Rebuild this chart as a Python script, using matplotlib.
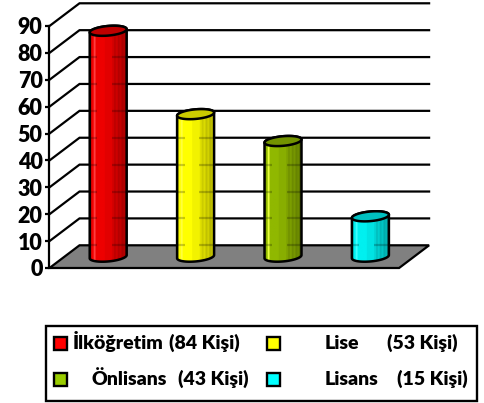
import numpy as np
import matplotlib
matplotlib.use('Agg')
import matplotlib.pyplot as plt
from matplotlib.patches import Polygon, Rectangle

plt.rcParams['font.family'] = ['Lato', 'DejaVu Sans']

labels = ['İlköğretim', 'Lise', 'Önlisans', 'Lisans']
counts = [84, 53, 43, 15]
colors = ['#ee0000', '#ffff00', '#90b800', '#00f0f0']
key_colors = ['#ff0000', '#ffff00', '#99cc00', '#00ffff']
yticks = [0, 10, 20, 30, 40, 50, 60, 70, 80, 90]

W, H = 485, 403
# pixels per unit on the front plane
px_x = 87.4
px_y = 2.689
depth_x = 30 / px_x
depth_y = 22.7 / px_y
rx = 18.5 / px_x
ry = 4.8 / px_y
tilt = 1.6 / px_y


def ring(cx, cy, t):
    return cx + rx*np.cos(t), cy + ry*np.sin(t) + tilt*np.cos(t)


def shade(hex_color):
    # brightness across the cylinder, highlight on the left, bands on the right
    c = np.array(matplotlib.colors.to_rgb(hex_color))
    prof = np.ones(40)
    prof[:2] = 0.85
    prof[2:4] = 1.0
    prof[4:6] = 1.2
    prof[6:16] = 1.0
    prof[16:24] = 0.95
    prof[24:] = np.repeat([0.88, 0.8, 0.86, 0.76, 0.82, 0.72, 0.76, 0.62], 2)
    rgb = np.clip(prof[:, None] * c + np.maximum(prof[:, None] - 1, 0) * 1.2, 0, 1)
    return rgb[None, :, :]


fig = plt.figure(figsize=(W/100, H/100), dpi=100)
ax = fig.add_axes([49.5/W, (H-268)/H, 379.5/W, 265/H])
ax.set_xlim(0, 379.5/px_x)
ax.set_ylim(0, 265/px_y)
ax.patch.set_visible(False)
for s in ['top', 'right', 'bottom']:
    ax.spines[s].set_visible(False)
ax.spines['left'].set_bounds(0, 90)
ax.spines['left'].set_linewidth(1.6)
ax.set_xticks([])
ax.set_yticks(yticks)
ax.tick_params(axis='y', length=3, width=1.6, pad=2)
for t in ax.get_yticklabels():
    t.set_fontsize(15.5)
    t.set_fontweight('heavy')

# floor, walls and gridlines
ax.add_patch(Polygon([(0, 0), (4, 0), (4+depth_x, depth_y), (depth_x, depth_y)],
                     fc='#808080', ec='black', lw=1.6, zorder=1, clip_on=False))
for v in yticks[1:]:
    ax.plot([0, depth_x, 4+depth_x], [v, v+depth_y, v+depth_y], color='black',
            lw=1.6, zorder=1, solid_joinstyle='miter', clip_on=False)

# cylinders
t_full = np.linspace(0, 2*np.pi, 120)
for i, (n, c) in enumerate(zip(counts, colors)):
    cx = i + 0.5 + depth_x/2
    base = depth_y/2
    top = n + depth_y/2
    t_low = np.linspace(0, np.pi, 60)
    xb = cx + rx*np.cos(t_low)
    yb = base - ry*np.sin(t_low) + tilt*np.cos(t_low)
    xt, yt = ring(cx, top, np.linspace(np.pi, 0, 60))
    body = np.column_stack([np.r_[xb, xt], np.r_[yb, yt]])
    patch = Polygon(body, closed=True, fc='none', ec='black', lw=1.8, zorder=4)
    im = ax.imshow(shade(c), extent=(cx-rx, cx+rx, base-2*ry, top+2*ry),
                   aspect='auto', interpolation='bilinear', zorder=3)
    ax.add_patch(patch)
    im.set_clip_path(patch)
    # gridlines show faintly through the sides of the cylinder
    for v in yticks:
        if v + depth_y < top:
            for a, b in [(-1, -0.6), (0.2, 1)]:
                seg, = ax.plot([cx+a*rx, cx+b*rx], [v+depth_y, v+depth_y], color='black',
                               lw=1.6, alpha=0.22, zorder=3.5, solid_capstyle='butt')
                seg.set_clip_path(patch)
    # top cap is the colour darkened
    xc, yc = ring(cx, top, t_full)
    cap = np.array(matplotlib.colors.to_rgb(c)) * 0.8
    ax.add_patch(Polygon(np.column_stack([xc, yc]), closed=True, fc=cap, ec='black',
                         lw=1.8, zorder=5))
ax.set_xlim(0, 379.5/px_x)
ax.set_ylim(0, 265/px_y)

# legend box, in figure pixels
lax = fig.add_axes([0, 0, 1, 1])
lax.set_xlim(0, W)
lax.set_ylim(H, 0)
lax.axis('off')
lax.add_patch(Rectangle((46, 326), 431, 75, fc='white', ec='black', lw=1.7))
key_x = [54, 267, 54, 267]
key_y = [343, 343, 379, 379]
name_x = [73, 325, 92, 325]
num_x = [169, 387, 178, 397]
for i in range(4):
    lax.add_patch(Rectangle((key_x[i], key_y[i]-6.5), 13, 13, fc=key_colors[i], ec='black', lw=1.7))
    lax.text(name_x[i], key_y[i]+6, labels[i], fontsize=14, fontweight='heavy', va='baseline', ha='left')
    lax.text(num_x[i], key_y[i]+6, '(%d Kişi)' % counts[i], fontsize=14, fontweight='heavy', va='baseline', ha='left')

fig.savefig('out.png', dpi=100)
